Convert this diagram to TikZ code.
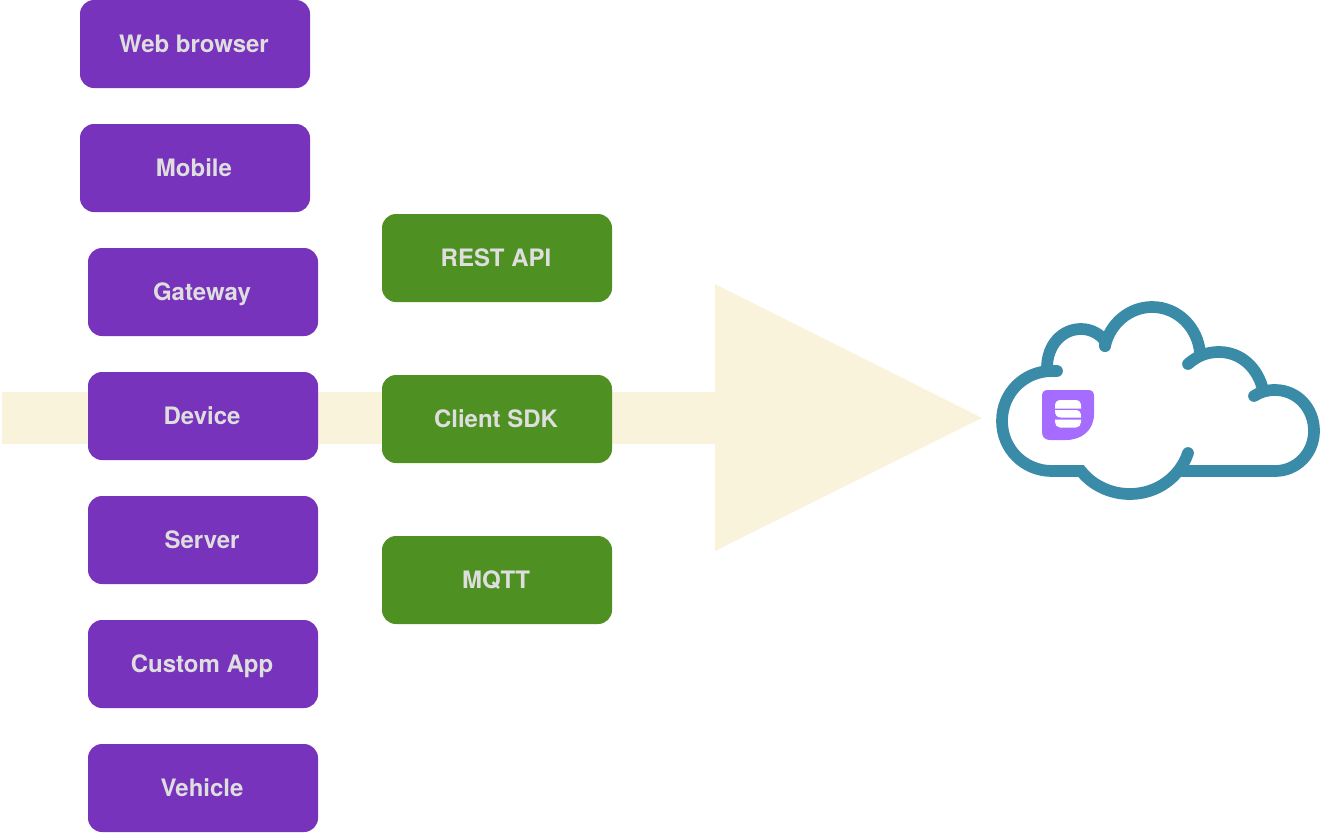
\documentclass[tikz,border=0pt]{standalone}
\usepackage{fontspec}
\setmainfont{TeX Gyre Heros}
\definecolor{clientpurple}{HTML}{7733BB}
\definecolor{protogreen}{HTML}{4E9022}
\definecolor{flowcream}{HTML}{FAF3DC}
\definecolor{cloudblue}{HTML}{3A8BA8}
\definecolor{logopurple}{HTML}{A66CFF}
\definecolor{boxtext}{HTML}{DEDEDE}
\tikzset{
    clientbox/.style={fill=clientpurple,rounded corners=10.5pt,minimum width=172.5pt,minimum height=66pt,inner sep=0pt,text=boxtext,text height=14pt,text depth=2pt,execute at end node={\hspace*{1.5pt}},font=\bfseries\fontsize{18}{20}\selectfont},
    protobox/.style={clientbox,fill=protogreen},
    cloudline/.style={draw=cloudblue,line width=8.8pt,line cap=round}
}
\begin{document}
\begin{tikzpicture}[x=0.75pt,y=-0.75pt]
    \useasboundingbox (0,0) rectangle (1320,832);
    % flow arrow
    \fill[flowcream] (2,392) -- (715,392) -- (715,284) -- (982,418) -- (715,551) -- (715,444) -- (2,444) -- cycle;
    % clients
    \foreach \name/\x/\y/\txt in {web/195/44/Web browser,mobile/195/168/Mobile,gateway/203/292/Gateway,device/203/416/Device,server/203/540/Server,custom/203/664/Custom App,vehicle/203/788/Vehicle} {
        \node[clientbox] (\name) at (\x,\y) {\txt};
    }
    % interfaces
    \foreach \name/\y/\txt in {rest/258/REST API,sdk/419/Client SDK,mqtt/580/MQTT} {
        \node[protobox] (\name) at (497,\y) {\txt};
    }
    % cloud
    \draw[cloudline] (1057,371) -- (1052,371) .. controls (1024,371) and (1002,393) .. (1002,421) .. controls (1002,449) and (1024,471) .. (1052,471) -- (1081,471) .. controls (1092,485) and (1110,494) .. (1130,494) .. controls (1157,494) and (1180,477) .. (1188,453);
    \draw[cloudline] (1182,471) -- (1275,471) .. controls (1297,471) and (1314,453) .. (1314,431) .. controls (1314,408) and (1297,390) .. (1275,390) .. controls (1267,390) and (1260,392) .. (1254,396);
    \draw[cloudline] (1047,368) .. controls (1047,345) and (1062,329) .. (1081,329) .. controls (1091,329) and (1100,334) .. (1105,341) -- (1105,346);
    \draw[cloudline] (1105,346) .. controls (1110,323) and (1130,307) .. (1152,307) .. controls (1178,307) and (1198,328) .. (1200,353);
    \draw[cloudline] (1188,364) .. controls (1197,356) and (1207,352) .. (1219,352) .. controls (1241,352) and (1258,368) .. (1263,390);
    % logo
    \fill[logopurple] (1048,390) -- (1088,390) .. controls (1092,390) and (1094,392) .. (1094,396) -- (1094,414) .. controls (1094,430) and (1082,440) .. (1066,440) -- (1050,440) .. controls (1045,440) and (1042,437) .. (1042,432) -- (1042,396) .. controls (1042,392) and (1044,390) .. (1048,390) -- cycle;
    \fill[white] (1055,408.5) -- (1055,406) .. controls (1055,402) and (1057,400) .. (1061,400) -- (1075,400) .. controls (1079,400) and (1081,402) .. (1081,406) -- (1081,408.5) -- cycle;
    \fill[white] (1055,410) -- (1075,410) .. controls (1079,410) and (1081,412) .. (1081,416) -- (1081,417.5) -- (1061,417.5) .. controls (1057,417.5) and (1055,415) .. (1055,411) -- cycle;
    \fill[white] (1055,419.5) -- (1081,419.5) -- (1081,422) .. controls (1081,425) and (1079,427.5) .. (1076,427.5) -- (1060,427.5) .. controls (1057,427.5) and (1055,425) .. (1055,422) -- cycle;
\end{tikzpicture}
\end{document}
